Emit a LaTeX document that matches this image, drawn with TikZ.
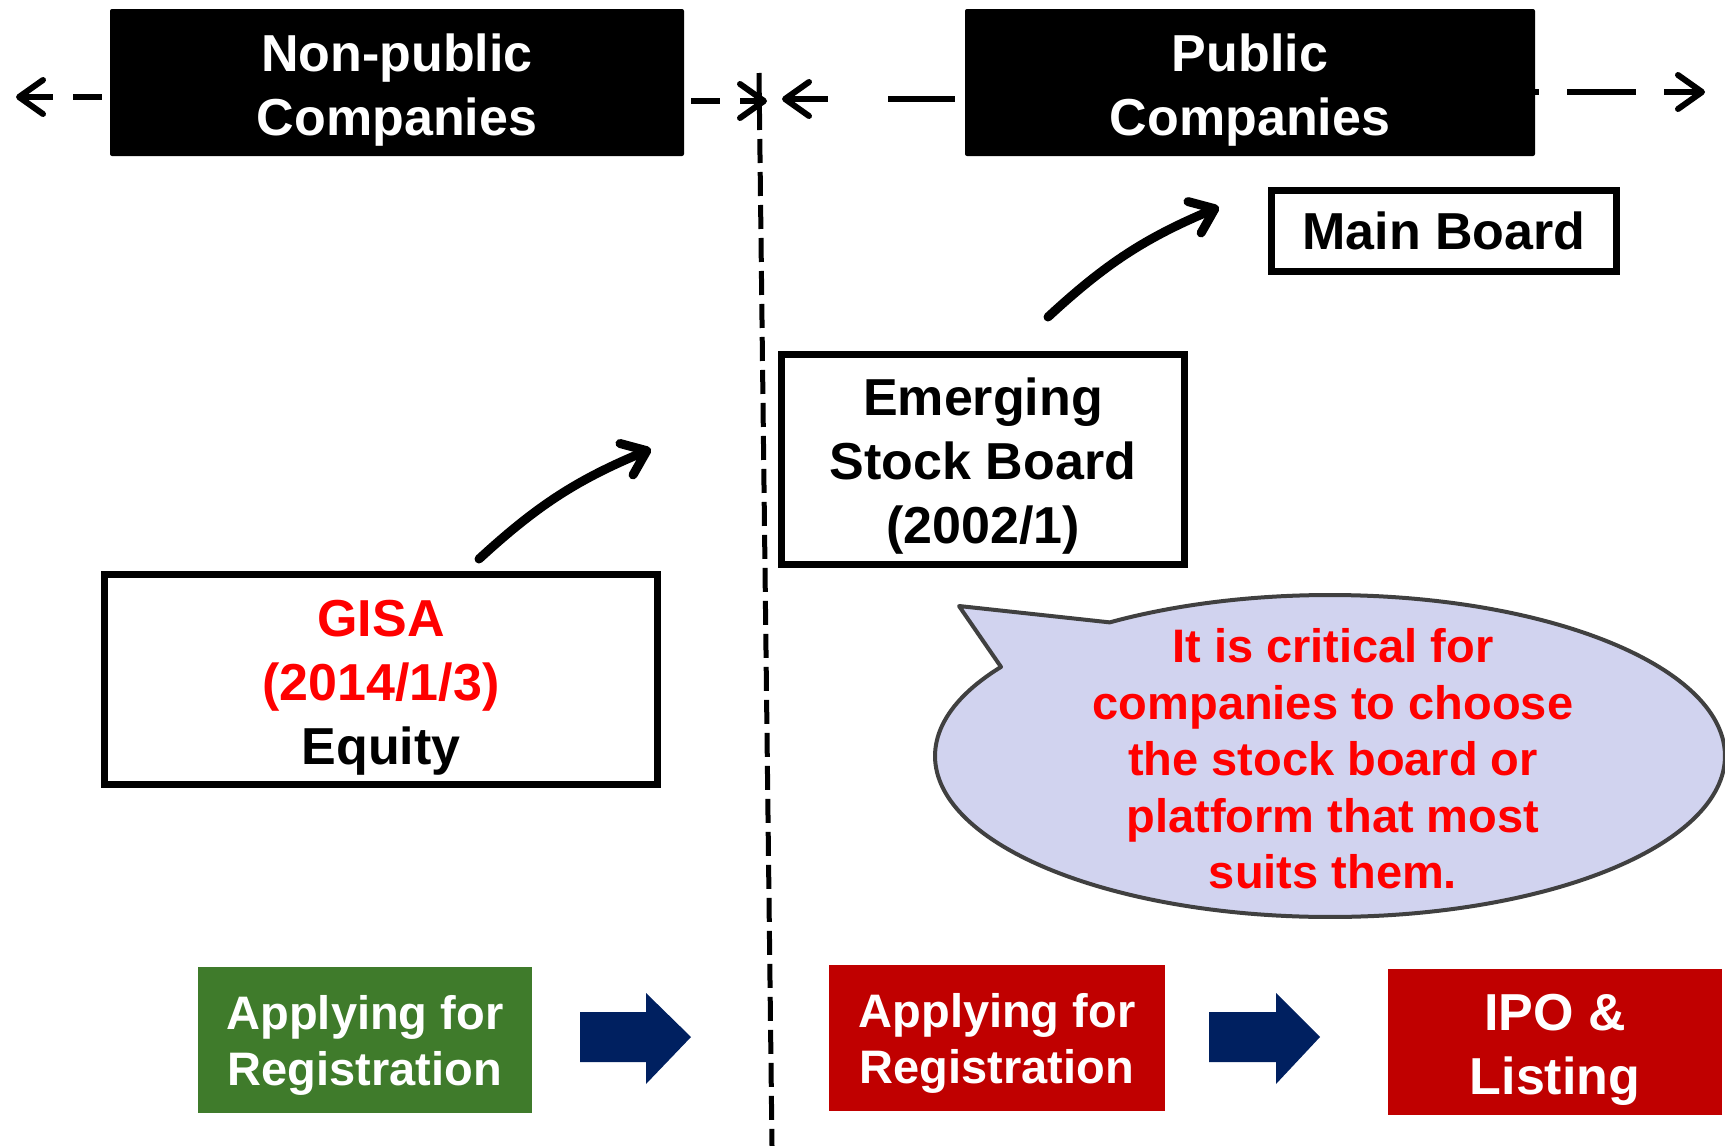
\documentclass[tikz,border=0pt]{standalone}
\usepackage{fontspec}
\setmainfont{Liberation Sans}
\usetikzlibrary{arrows.meta}
\definecolor{txtred}{HTML}{FF0000}
\definecolor{boxred}{HTML}{C00000}
\definecolor{boxgreen}{HTML}{3F7B2B}
\definecolor{navy}{HTML}{002060}
\definecolor{calfill}{HTML}{D1D3EF}
\definecolor{calline}{HTML}{404040}
\newcommand{\liftline}[1]{\rule{0pt}{#1}}
\begin{document}
\begin{tikzpicture}[x=1pt,y=-1pt,
  hdr/.style={fill=black, text=white, font=\bfseries\fontsize{52}{64}\selectfont, align=center, inner sep=0pt, rounded corners=2pt},
  board/.style={draw=black, line width=7pt, font=\bfseries\fontsize{52}{64}\selectfont, align=center, inner sep=0pt},
  stepbox/.style={text=white, font=\bfseries\fontsize{47}{56.5}\selectfont, align=center, inner sep=0pt},
  hdash/.style={line width=6pt, -{Straight Barb[length=24pt,width=34pt,round]}},
  sketch/.style={line width=9pt, line cap=round, -{Straight Barb[length=22pt,width=34pt,round]}},
  blockarrow/.style={fill=navy}
]
\useasboundingbox (0,0) rectangle (1725,1146);

% vertical divider
\coordinate (vt) at (759,73);
\coordinate (vb) at (772,1146);
\draw[line width=5pt, dash pattern=on 24pt off 9pt] (vt) -- (vb);

% headers
\node[hdr, minimum width=574pt, minimum height=147pt] (np) at (397,82.5) {\liftline{52pt}Non-public\\Companies};
\node[hdr, minimum width=570pt, minimum height=147pt] (pub) at (1250,82.5) {\liftline{52pt}Public\\Companies};

% header dashed arrows
\coordinate (tipL) at (16,97);
\coordinate (tipM1) at (767,101);
\coordinate (tipM2) at (782,99);
\coordinate (tipR) at (1705,92);
\draw[hdash, dash pattern=on 29pt off 20pt, dash phase=41pt] ([yshift=-14.5pt]np.west) -- (tipL);
\draw[hdash, dash pattern=on 29pt off 20pt, dash phase=42pt] ([yshift=-18.5pt]np.east) -- (tipM1);
\draw[hdash, dash pattern=on 67pt off 60pt, dash phase=117pt] ([yshift=-16.5pt]pub.west) -- (tipM2);
\draw[hdash, dash pattern=on 69pt off 28pt, dash phase=65pt] ([yshift=-9.5pt]pub.east) -- (tipR);

% boards
\node[board, minimum width=345pt, minimum height=81pt] (main) at (1444,231) {Main Board};
\node[board, minimum width=403pt, minimum height=210pt] (emerg) at (983,459.5) {\liftline{50pt}Emerging\\Stock Board\\(2002/1)};
\node[board, minimum width=553pt, minimum height=210pt] (gisa) at (381,679.5) {\liftline{52pt}\textcolor{txtred}{GISA}\\\textcolor{txtred}{(2014/1/3)}\\Equity};

% sketch arrows
\coordinate (a1s) at (479,559);
\coordinate (a1e) at (651,449);
\coordinate (a2s) at (1048,317);
\coordinate (a2e) at (1219,207);
\draw[sketch] (a1s) to[bend left=10] (a1e);
\draw[sketch] (a2s) to[bend left=10] (a2e);

% callout
\filldraw[fill=calfill, draw=calline, line width=4pt, line join=round]
  plot[domain=236.1:573.6, samples=240, variable=\t] ({1330+395*cos(\t)},{756+161*sin(\t)})
  -- (959,606) -- cycle;
\node[font=\bfseries\fontsize{47}{56.5}\selectfont, text=txtred, align=center, inner sep=0pt] (callout) at (1333,759)
  {It is critical for\\companies to choose\\the stock board or\\platform that most\\suits them.};

% bottom process
\node[stepbox, fill=boxgreen, minimum width=334pt, minimum height=146pt] (reg1) at (365,1040) {\liftline{45pt}Applying for\\Registration};
\node[stepbox, fill=boxred, minimum width=336pt, minimum height=146pt] (reg2) at (997,1038) {\liftline{45pt}Applying for\\Registration};
\node[stepbox, fill=boxred, minimum width=334pt, minimum height=146pt, font=\bfseries\fontsize{52}{64}\selectfont] (ipo) at (1555,1042) {\liftline{52pt}IPO \&\\Listing};

\fill[blockarrow] (580,1012) -- (646,1012) -- (646,993) -- (691,1037) -- (646,1084) -- (646,1062) -- (580,1062) -- cycle;
\fill[blockarrow] (1209,1012) -- (1276,1012) -- (1276,993) -- (1320,1037) -- (1276,1084) -- (1276,1062) -- (1209,1062) -- cycle;
\end{tikzpicture}
\end{document}
